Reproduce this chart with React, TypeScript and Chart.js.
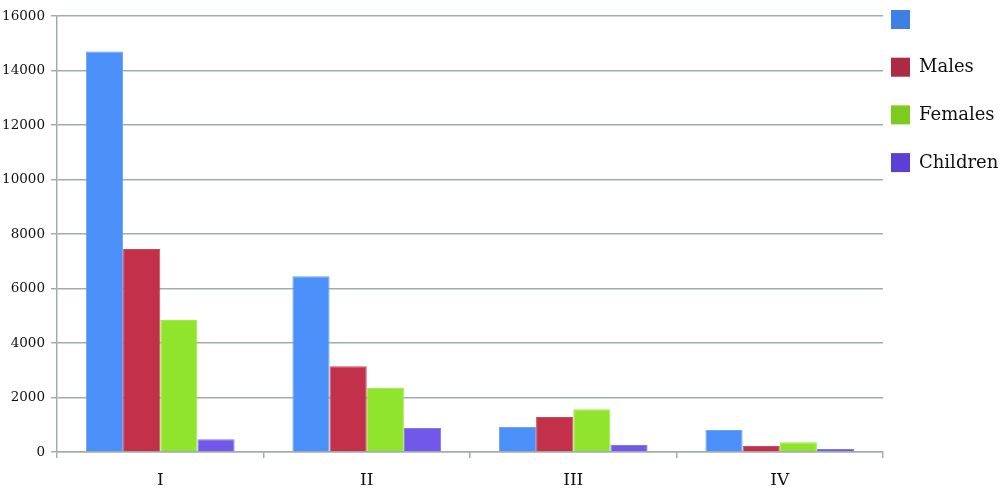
import React, { useEffect, useRef } from "react";
import { Chart, registerables } from "chart.js";

Chart.register(...registerables);

const categories = ["I", "II", "III", "IV"];
const seriesLabels = ["", "Males", "Females", "Children"];
const totalValues = [14700, 6450, 920, 810];
const maleValues = [7450, 3150, 1280, 220];
const femaleValues = [4840, 2350, 1570, 360];
const childValues = [470, 880, 255, 110];
const yTicks = [0, 2000, 4000, 6000, 8000, 10000, 12000, 14000, 16000];

const barColors = ["#4a90f8", "#c3304a", "#90e42c", "#7257eb"];
const barBorders = ["#6aa2f6", "#cc4a60", "#a2e850", "#8a74ee"];
const legendColors = ["#3d7fe3", "#ad2a43", "#7dcb1f", "#5b40d6"];

const FONT = "'DejaVu Serif', serif";

const legendPlugin = {
  id: "customLegend",
  afterDraw(chart: any) {
    const ctx = chart.ctx;
    ctx.save();
    chart.data.datasets.forEach((ds: any, i: number) => {
      const y = 10 + i * 47.7;
      ctx.fillStyle = legendColors[i];
      ctx.fillRect(891, y, 19, 19);
      ctx.fillStyle = "#111";
      ctx.font = `18px ${FONT}`;
      ctx.textBaseline = "middle";
      ctx.textAlign = "left";
      ctx.fillText(ds.label, 919, y + 10);
    });
    ctx.restore();
  },
};

export default function App() {
  const ref = useRef<HTMLCanvasElement>(null);
  useEffect(() => {
    if (!ref.current) return;
    const values = [totalValues, maleValues, femaleValues, childValues];
    const chart = new Chart(ref.current, {
      type: "bar",
      data: {
        labels: categories,
        datasets: values.map((v, i) => ({
          label: seriesLabels[i],
          data: v,
          backgroundColor: barColors[i],
          borderColor: barBorders[i],
          borderWidth: 1,
          categoryPercentage: 0.72,
          barPercentage: 1,
        })),
      },
      options: {
        responsive: false,
        animation: false,
        devicePixelRatio: 1,
        layout: { padding: { top: 16, right: 117, left: 0, bottom: 0 } },
        plugins: {
          legend: { display: false },
          tooltip: { enabled: false },
          title: { display: false },
        },
        scales: {
          x: {
            afterFit: (s: any) => {
              s.height = 40;
            },
            grid: {
              offset: true,
              drawOnChartArea: false,
              drawTicks: true,
              tickLength: 6,
              color: "#a3acac",
              lineWidth: 1.5,
            },
            border: { color: "#a3acac", width: 1.5 },
            ticks: {
              color: "#111",
              font: { family: FONT, size: 17 },
              padding: 12,
            },
          },
          y: {
            min: 0,
            max: 16000,
            afterFit: (s: any) => {
              s.width = 57;
            },
            afterBuildTicks: (s: any) => {
              s.ticks = yTicks.map((v) => ({ value: v }));
            },
            grid: {
              color: "#a3acac",
              lineWidth: 1.5,
              tickLength: 6,
            },
            border: { color: "#a3acac", width: 1.5 },
            ticks: {
              color: "#111",
              font: { family: FONT, size: 13.5 },
              padding: 6,
              callback: (v: any) => String(v),
            },
          },
        },
      },
      plugins: [legendPlugin],
    });
    return () => chart.destroy();
  }, []);
  return (
    <div style={{ position: "absolute", left: 0, top: 0, width: 1000, height: 492, background: "#fff" }}>
      <canvas ref={ref} width={1000} height={492} style={{ display: "block" }} />
    </div>
  );
}
